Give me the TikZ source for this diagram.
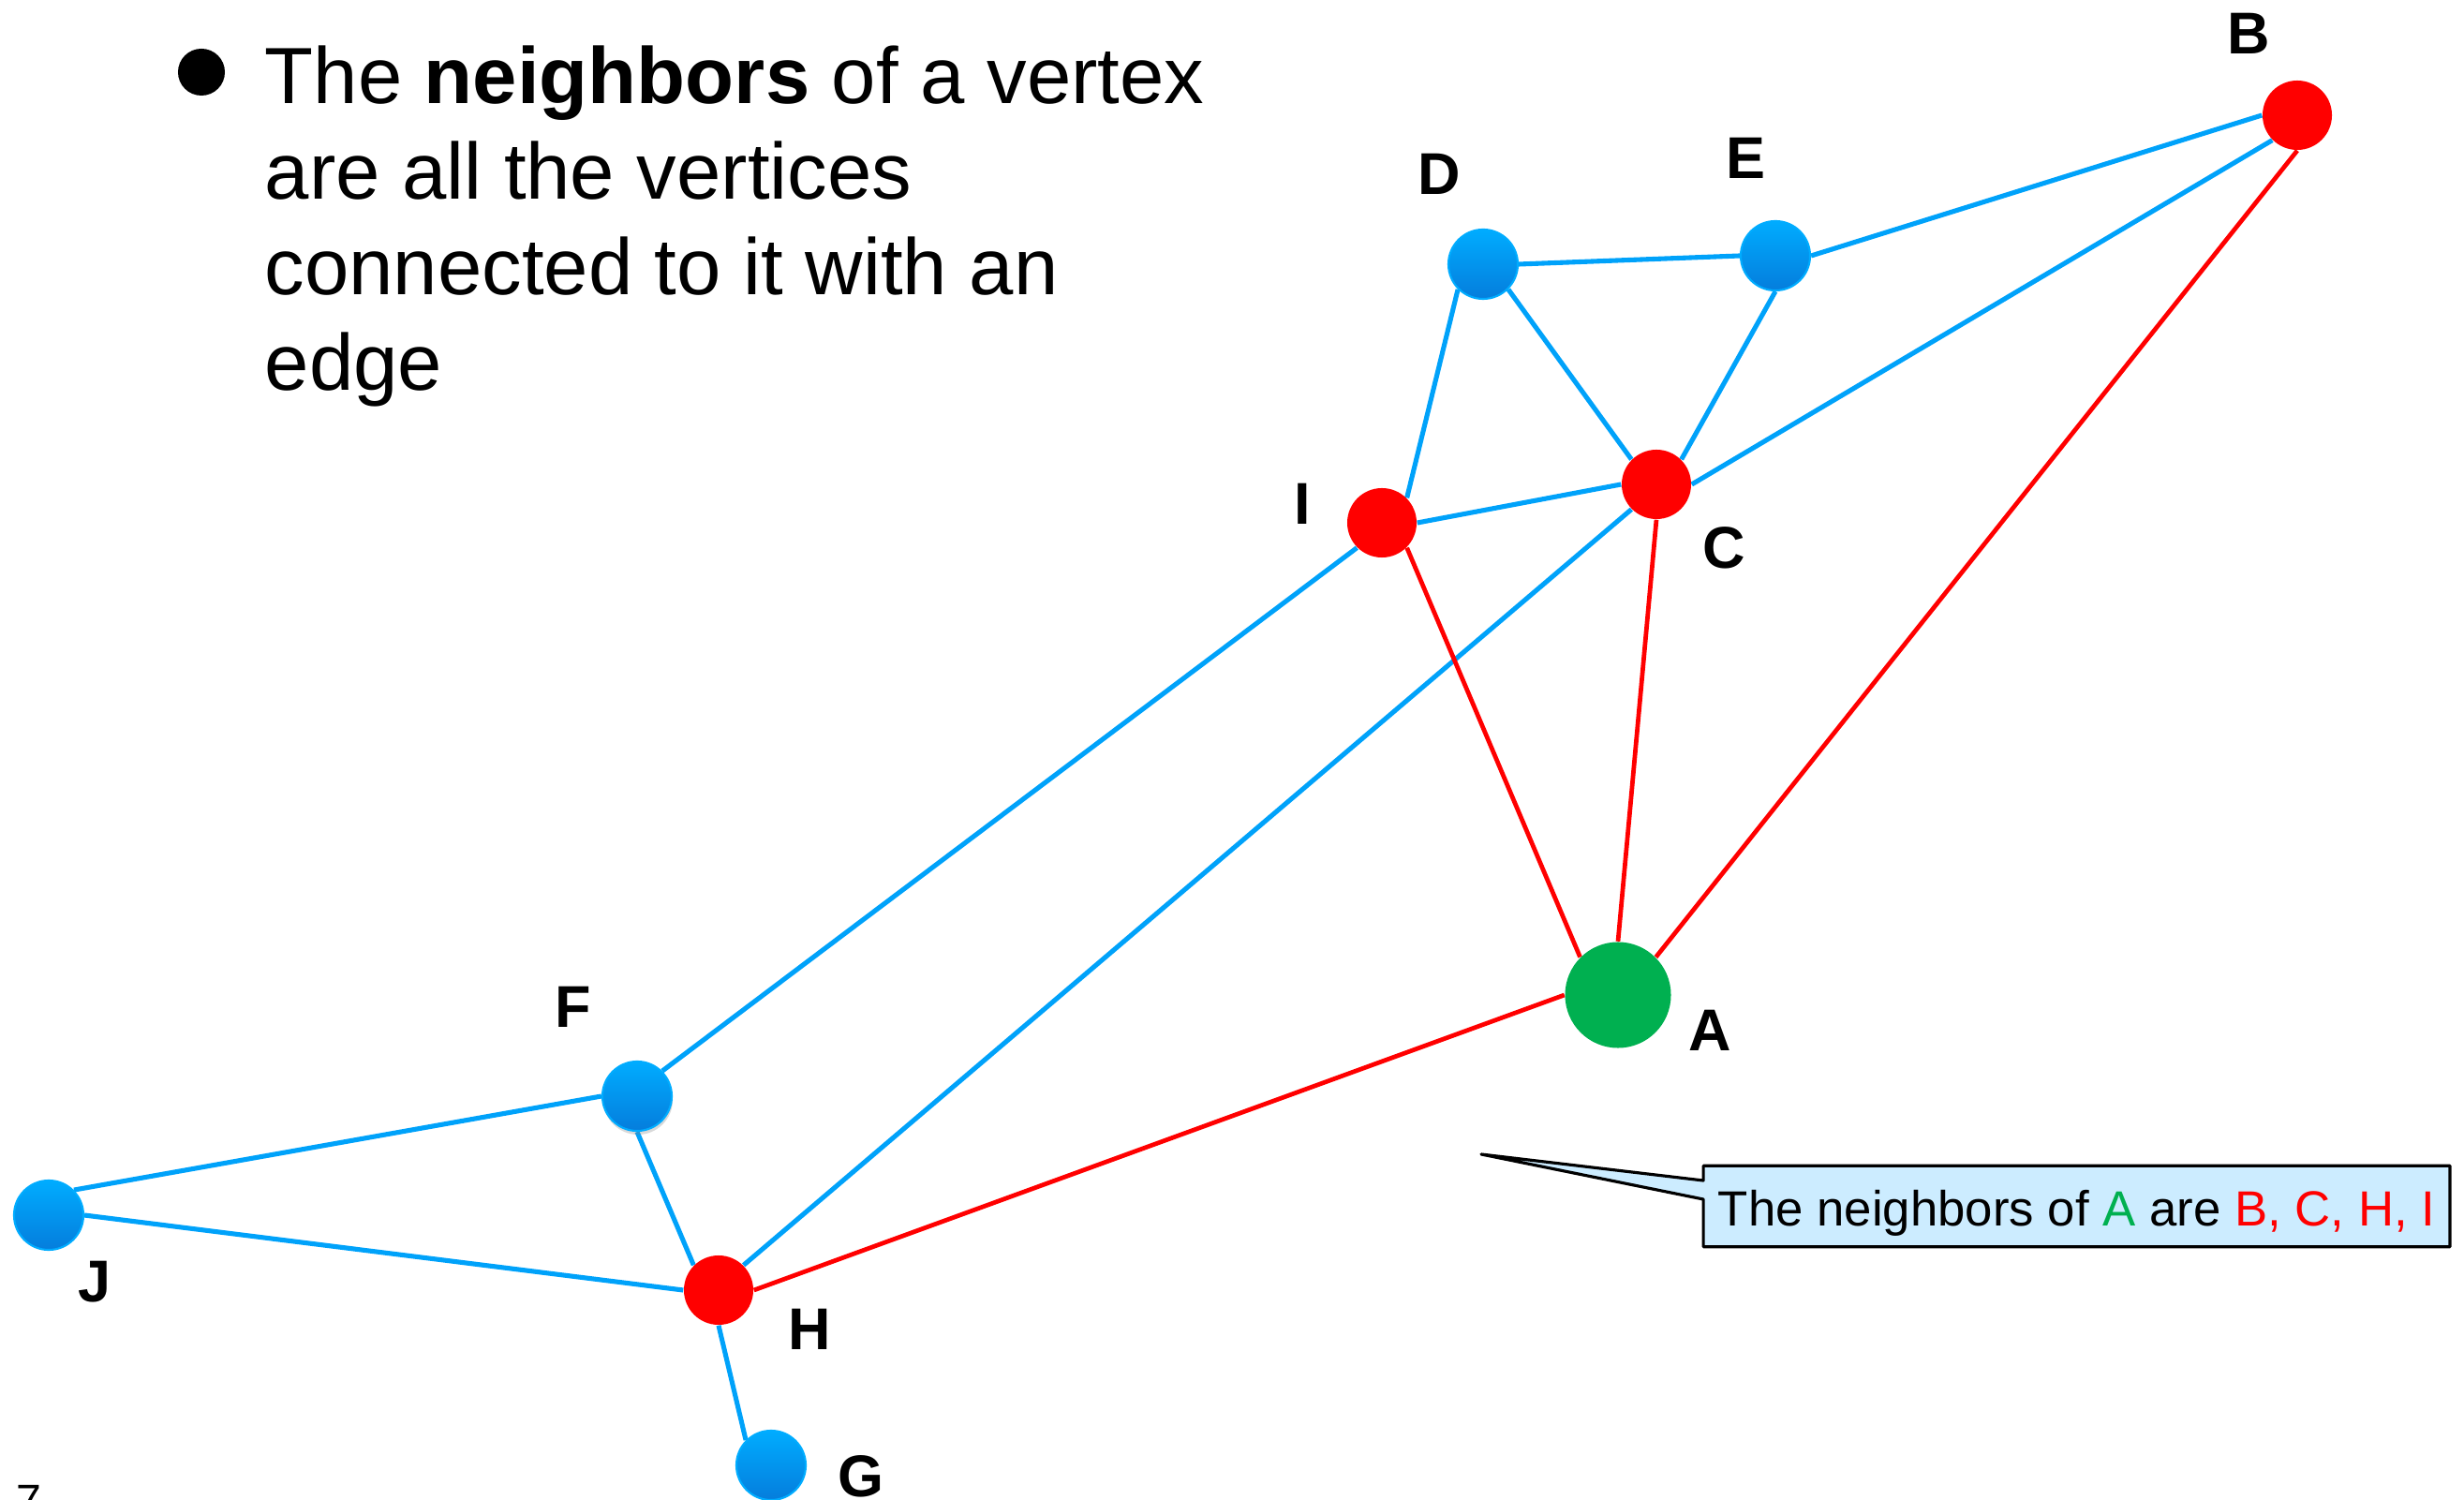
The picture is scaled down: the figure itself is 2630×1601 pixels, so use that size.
\documentclass[tikz,border=0pt]{standalone}
\usepackage{fontspec}
\setmainfont{Liberation Sans}
\usetikzlibrary{shadows,backgrounds,calc}
\definecolor{eblue}{RGB}{0,162,250}
\definecolor{ntop}{RGB}{0,172,255}
\definecolor{nbot}{RGB}{5,125,220}
\definecolor{nred}{RGB}{255,0,0}
\definecolor{ngreen}{RGB}{0,176,80}
\definecolor{calloutfill}{RGB}{204,236,255}
\begin{document}
\begin{tikzpicture}[x=0.01cm,y=-0.01cm,
  bluev/.style={circle, inner sep=0pt, minimum size=0.74cm, top color=ntop, bottom color=nbot, draw=ntop, line width=0.6pt},
  redv/.style={circle, inner sep=0pt, minimum size=0.74cm, fill=nred},
  greenv/.style={circle, inner sep=0pt, minimum size=1.13cm, fill=ngreen},
  lbl/.style={inner sep=0pt, font=\fontsize{17.9pt}{20pt}\selectfont\bfseries},
  bedge/.style={draw=eblue, line width=1.45pt},
  redge/.style={draw=nred, line width=1.35pt},
  bodytext/.style={anchor=base west, inner sep=0pt, font=\fontsize{24.2pt}{29pt}\selectfont},
]
\useasboundingbox (0,0) rectangle (2630,1601);

% bullet text
\node[circle, fill=black, inner sep=0pt, minimum size=0.5cm] (bul) at (215,77) {};
\node[bodytext] (l1) at (282,111) {The \textbf{neighbors} of a vertex};
\node[bodytext] (l2) at (282,213) {are all the vertices};
\node[bodytext] (l3) at (282,315) {connected to it with an};
\node[bodytext] (l4) at (282,417) {edge};

% vertices
\node[redv] (B) at (2452,123) {};
\node[bluev] (D) at (1583,282) {};
\node[bluev] (E) at (1895,273) {};
\node[redv] (C) at (1768,517) {};
\node[redv] (I) at (1475,558) {};
\node[greenv] (A) at (1727,1062) {};
\node[bluev, drop shadow={shadow xshift=0.01cm, shadow yshift=-0.04cm, opacity=0.3}] (F) at (680,1170) {};
\node[redv] (H) at (767,1377) {};
\node[bluev] (J) at (52,1297) {};
\node[bluev] (G) at (823,1564) {};

% labels
\node[lbl] (lB) at (2400,36) {B};
\node[lbl] (lD) at (1536,186) {D};
\node[lbl] (lE) at (1863,169) {E};
\node[lbl] (lI) at (1390,538) {I};
\node[lbl] (lC) at (1840,585) {C};
\node[lbl] (lA) at (1825,1100) {A};
\node[lbl] (lF) at (612,1075) {F};
\node[lbl] (lJ) at (101,1368) {J};
\node[lbl] (lH) at (864,1419) {H};
\node[lbl] (lG) at (919,1576) {G};

% callout
\node[inner sep=0pt, minimum width=7.95cm, minimum height=0.85cm, text height=0.5cm, text depth=0.09cm, font=\fontsize{15pt}{18pt}\selectfont] (note) at (2216.5,1287.5) {The neighbors of \textcolor{ngreen}{A} are \textcolor{nred}{B, C, H, I}};
\coordinate (tip) at (1581,1232);

% page number
\node[anchor=north, inner sep=0pt, font=\fontsize{13.7pt}{16pt}\selectfont] (pg) at (31,1585) {7};

\begin{scope}[on background layer]
\draw[fill=calloutfill, line width=0.9pt, line join=round] (note.north west) -- (note.north east) -- (note.south east) -- (note.south west) -- ($(note.west)+(0,-7.5)$) -- (tip) -- ($(note.west)+(0,-27.5)$) -- cycle;
\draw[bedge] (D.east) -- (E.west);
\draw[bedge] (E.east) -- (B.west);
\draw[bedge] (D.225) -- (I.45);
\draw[bedge] (D.315) -- (C.135);
\draw[bedge] (E.south) -- (C.45);
\draw[bedge] (C.east) -- (B.225);
\draw[bedge] (I.east) -- (C.west);
\draw[bedge] (I.225) -- (F.45);
\draw[bedge] (C.225) -- (H.45);
\draw[bedge] (F.west) -- (J.45);
\draw[bedge] (F.south) -- (H.135);
\draw[bedge] (J.east) -- (H.west);
\draw[bedge] (H.south) -- (G.135);
\draw[redge] (B.south) -- (A.45);
\draw[redge] (C.south) -- (A.north);
\draw[redge] (I.315) -- (A.135);
\draw[redge] (H.east) -- (A.west);
\end{scope}
\end{tikzpicture}
\end{document}
